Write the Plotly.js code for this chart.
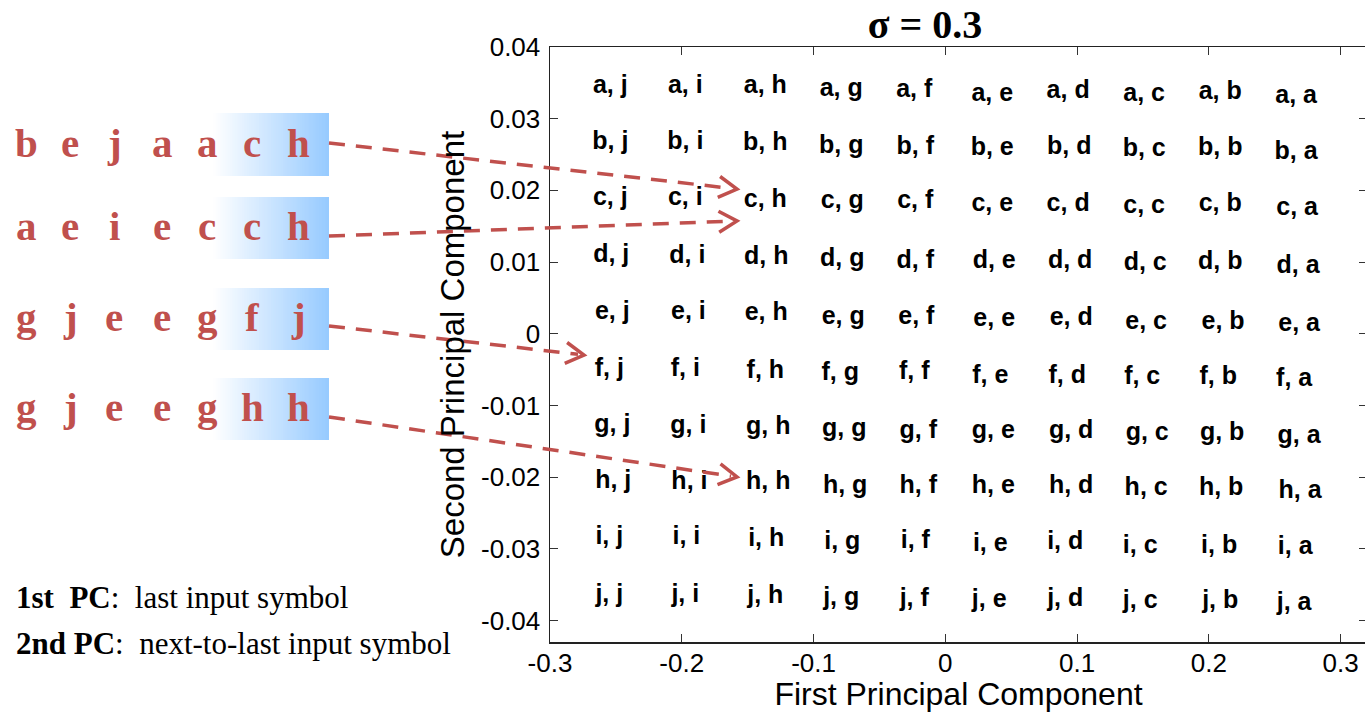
<!DOCTYPE html>
<html><head><meta charset="utf-8">
<script src="https://cdn.plot.ly/plotly-3.0.1.min.js"></script>
<style>html,body{margin:0;padding:0;overflow:hidden;background:#fff}</style>
</head><body><div id="chart" style="width:1367px;height:712px"></div>
<script>
// ---- data ----
const lastSymbols = ['j','i','h','g','f','e','d','c','b','a'];   // columns (1st PC)
const prevSymbols = ['a','b','c','d','e','f','g','h','i','j'];   // rows (2nd PC)
const pc1 = [
  [-0.2542,-0.1973,-0.1366,-0.0790,-0.0236,0.0356,0.0932,0.1509,0.2086,0.2662],
  [-0.2542,-0.1973,-0.1366,-0.0790,-0.0228,0.0356,0.0940,0.1509,0.2086,0.2662],
  [-0.2542,-0.1973,-0.1366,-0.0782,-0.0228,0.0356,0.0932,0.1509,0.2086,0.2670],
  [-0.2535,-0.1958,-0.1359,-0.0782,-0.0228,0.0371,0.0947,0.1517,0.2086,0.2677],
  [-0.2527,-0.1950,-0.1359,-0.0775,-0.0220,0.0371,0.0955,0.1524,0.2108,0.2685],
  [-0.2550,-0.1973,-0.1366,-0.0797,-0.0236,0.0341,0.0925,0.1494,0.2071,0.2647],
  [-0.2527,-0.1950,-0.1344,-0.0767,-0.0205,0.0364,0.0955,0.1532,0.2101,0.2685],
  [-0.2520,-0.1942,-0.1344,-0.0760,-0.0205,0.0364,0.0955,0.1524,0.2093,0.2692],
  [-0.2550,-0.1965,-0.1359,-0.0782,-0.0228,0.0341,0.0910,0.1479,0.2078,0.2655],
  [-0.2550,-0.1973,-0.1366,-0.0790,-0.0236,0.0333,0.0910,0.1479,0.2086,0.2647]
];
const pc2 = [
  [0.0344,0.0344,0.0344,0.0341,0.0339,0.0334,0.0337,0.0334,0.0336,0.0330],
  [0.0266,0.0266,0.0265,0.0261,0.0259,0.0258,0.0259,0.0256,0.0258,0.0252],
  [0.0188,0.0188,0.0185,0.0184,0.0184,0.0180,0.0180,0.0177,0.0180,0.0175],
  [0.0109,0.0107,0.0106,0.0103,0.0100,0.0100,0.0100,0.0097,0.0099,0.0093],
  [0.0029,0.0029,0.0028,0.0023,0.0022,0.0019,0.0021,0.0016,0.0015,0.0012],
  [-0.0050,-0.0050,-0.0053,-0.0056,-0.0055,-0.0060,-0.0060,-0.0062,-0.0062,-0.0064],
  [-0.0129,-0.0130,-0.0131,-0.0134,-0.0137,-0.0137,-0.0137,-0.0140,-0.0140,-0.0144],
  [-0.0207,-0.0208,-0.0208,-0.0214,-0.0214,-0.0214,-0.0214,-0.0216,-0.0216,-0.0221],
  [-0.0285,-0.0285,-0.0288,-0.0292,-0.0290,-0.0295,-0.0292,-0.0297,-0.0297,-0.0299],
  [-0.0366,-0.0366,-0.0367,-0.0370,-0.0371,-0.0373,-0.0371,-0.0374,-0.0374,-0.0377]
];
const sequences = ['bejaach','aeiecch','gjeegfj','gjeeghh'];
const xTickVals = [-0.3,-0.2,-0.1,0,0.1,0.2,0.3];
const xTickText = ['-0.3','-0.2','-0.1','0','0.1','0.2','0.3'];
const yTickVals = [0.04,0.03,0.02,0.01,0,-0.01,-0.02,-0.03,-0.04];
const yTickText = ['0.04','0.03','0.02','0.01','0','-0.01','-0.02','-0.03','-0.04'];
const titleText = '<b>σ = 0.3</b>';
const xTitle = 'First Principal Component';
const yTitle = 'Second Principal Component';
const note1 = '<b>1st\u00a0\u00a0PC</b>:\u00a0\u00a0last input symbol';
const note2 = '<b>2nd PC</b>:\u00a0\u00a0next-to-last input symbol';

// ---- layout geometry ----
const W = 1367, H = 712, ML = 550, MR = 0, MT = 47, MB = 70;
const PW = W - ML - MR, PH = H - MT - MB;
const px = x => (x - ML) / PW;
const py = y => (MT + PH - y) / PH;
const RED = '#C0504D';
const SANS = 'Liberation Sans, Arial, sans-serif';
const SERIF = 'Liberation Serif, Times New Roman, serif';

// grid text trace
const xs = [], ys = [], ts = [];
prevSymbols.forEach((p, r) => lastSymbols.forEach((l, c) => {
  xs.push(pc1[r][c]); ys.push(pc2[r][c]); ts.push(p + ', ' + l);
}));
const trace = {
  type: 'scatter', mode: 'text', x: xs, y: ys, text: ts,
  textposition: 'middle center', cliponaxis: false, hoverinfo: 'skip',
  textfont: {family: SANS, size: 25, color: '#000', weight: 'bold'}
};

// left panel
const boxRows = [[113,176],[197,259],[288,350],[378,440]];
const colX = [26, 70, 114, 162, 207, 252, 298];
const boxX0 = 213, boxX1 = 329;
const shapes = [], annotations = [];
const N = 48;
boxRows.forEach(([y0, y1], i) => {
  const w = (boxX1 - boxX0) / N;
  for (let k = 0; k < N; k++) {
    const t = (k + 0.5) / N;
    const r = Math.round(255 + (150 - 255) * t), g = Math.round(255 + (202 - 255) * t);
    shapes.push({type: 'rect', xref: 'paper', yref: 'paper', layer: 'below',
      x0: px(boxX0 + k * w), x1: px(Math.min(boxX1, boxX0 + (k + 1) * w + 0.7)),
      y0: py(y1), y1: py(y0), line: {width: 0}, fillcolor: `rgb(${r},${g},255)`});
  }
  const cy = (y0 + y1) / 2 - 2;
  sequences[i].split('').forEach((ch, j) => {
    annotations.push({xref: 'paper', yref: 'paper', x: px(colX[j]), y: py(cy),
      xanchor: 'center', yanchor: 'middle', showarrow: false, text: '<b>' + ch + '</b>',
      font: {family: SERIF, size: 41, color: RED}});
  });
});

// arrows
const arrows = [
  {from: [329, 143], tip: [737, 189]},
  {from: [329, 236], tip: [737, 221]},
  {from: [329, 326], tip: [584, 355]},
  {from: [329, 417], tip: [737, 477]}
];
arrows.forEach(a => {
  const [fx, fy] = a.from, [tx, ty] = a.tip;
  const ang = Math.atan2(ty - fy, tx - fx);
  const L = 21, half = Math.PI / 6;
  const ax1 = tx - L * Math.cos(ang - half), ay1 = ty - L * Math.sin(ang - half);
  const ax2 = tx - L * Math.cos(ang + half), ay2 = ty - L * Math.sin(ang + half);
  const ex = tx - 6 * Math.cos(ang), ey = ty - 6 * Math.sin(ang);
  shapes.push({type: 'line', xref: 'paper', yref: 'paper', x0: px(fx), y0: py(fy), x1: px(ex), y1: py(ey),
    line: {color: RED, width: 3.5, dash: '16px,11px'}});
  shapes.push({type: 'path', xref: 'paper', yref: 'paper',
    path: `M ${px(ax1)} ${py(ay1)} L ${px(tx)} ${py(ty)} L ${px(ax2)} ${py(ay2)}`,
    line: {color: RED, width: 3.5}});
});

// notes
annotations.push({xref: 'paper', yref: 'paper', x: px(14), y: py(597), xanchor: 'left', yanchor: 'middle',
  showarrow: false, text: note1, font: {family: SERIF, size: 31, color: '#000'}});
annotations.push({xref: 'paper', yref: 'paper', x: px(14), y: py(643), xanchor: 'left', yanchor: 'middle',
  showarrow: false, text: note2, font: {family: SERIF, size: 31, color: '#000'}});

const axisCommon = {
  ticks: 'inside', ticklen: 8, tickwidth: 1, tickcolor: '#333',
  showline: true, linecolor: '#222', linewidth: 1.5, mirror: 'ticks',
  showgrid: false, zeroline: false, fixedrange: true, automargin: false,
  tickfont: {family: SANS, size: 26, color: '#000'}
};
const layout = {
  width: W, height: H, margin: {l: ML, r: MR, t: MT, b: MB, pad: 0},
  paper_bgcolor: '#fff', plot_bgcolor: '#fff', showlegend: false,
  title: {text: titleText, font: {family: SERIF, size: 40, color: '#000'},
    x: 925 / W, xanchor: 'center', xref: 'container', y: 1 - 24 / H, yanchor: 'middle', yref: 'container'},
  xaxis: Object.assign({}, axisCommon, {range: [-0.3, 0.32], tickvals: xTickVals, ticktext: xTickText,
    ticklabelstandoff: -3,
    title: {text: xTitle, font: {family: SANS, size: 32, color: '#000'}, standoff: 8}}),
  yaxis: Object.assign({}, axisCommon, {range: [-0.043, 0.04], tickvals: yTickVals, ticktext: yTickText,
    ticklabelstandoff: 3,
    title: {text: yTitle, font: {family: SANS, size: 33, color: '#000'}, standoff: 6}}),
  shapes: shapes, annotations: annotations
};
Plotly.newPlot('chart', [trace], layout, {displayModeBar: false, staticPlot: true});
</script></body></html>
